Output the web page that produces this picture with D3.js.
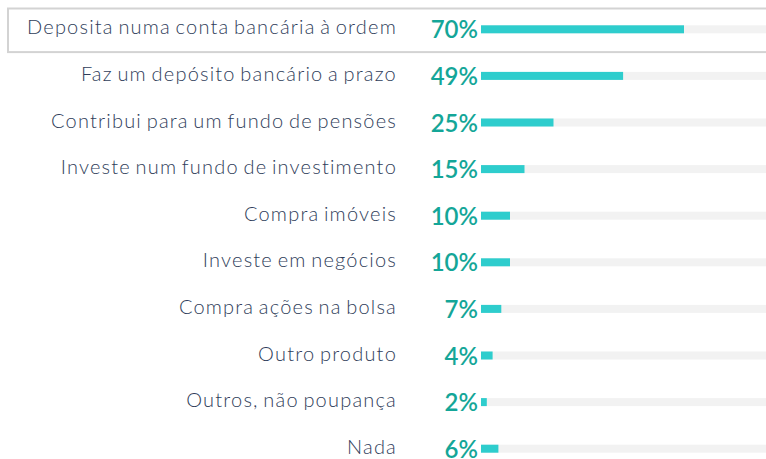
<!DOCTYPE html>
<html><head><meta charset="utf-8">
<script src="https://cdn.jsdelivr.net/npm/d3@7"></script>
<style>
html,body{margin:0;padding:0;background:#fff;}
svg{display:block;}
</style></head>
<body>
<svg id="chart" width="766" height="459"></svg>
<script>
const categories = [
  "Deposita numa conta bancária à ordem",
  "Faz um depósito bancário a prazo",
  "Contribui para um fundo de pensões",
  "Investe num fundo de investimento",
  "Compra imóveis",
  "Investe em negócios",
  "Compra ações na bolsa",
  "Outro produto",
  "Outros, não poupança",
  "Nada"
];
const values = [70, 49, 25, 15, 10, 10, 7, 4, 2, 6];
const valueLabels = ["70%", "49%", "25%", "15%", "10%", "10%", "7%", "4%", "2%", "6%"];
const highlighted = "Deposita numa conta bancária à ordem";

const svg = d3.select("#chart");
const W = 766, H = 459;
const x = d3.scaleLinear().domain([0, 100]).range([481, 771]);
const y = d3.scaleBand().domain(categories).range([6, 472]);
const barH = 8;

// highlight box
svg.append("rect")
  .attr("x", 8).attr("y", y(highlighted) + 2.5)
  .attr("width", W + 10).attr("height", y.bandwidth() - 3)
  .attr("fill", "none").attr("stroke", "#d3d3d3").attr("stroke-width", 2);

const rows = svg.selectAll("g.row").data(categories).join("g")
  .attr("class", "row")
  .attr("transform", d => `translate(0,${y(d) + y.bandwidth() / 2})`);

rows.append("rect")
  .attr("x", x(0)).attr("y", -barH / 2)
  .attr("width", x(100) - x(0)).attr("height", barH)
  .attr("fill", "#f2f2f2");

rows.append("rect")
  .attr("x", x(0)).attr("y", -barH / 2)
  .attr("width", (d, i) => x(values[i]) - x(0)).attr("height", barH)
  .attr("fill", "#2ecdcd");

rows.append("text")
  .attr("x", 397).attr("y", 5)
  .attr("text-anchor", "end")
  .attr("font-family", "Lato")
  .attr("font-weight", 300)
  .attr("font-size", 20)
  .attr("letter-spacing", 1.2)
  .attr("word-spacing", -2)
  .attr("fill", "#2f3d5a")
  .text(d => d);

rows.append("text")
  .attr("x", 478).attr("y", 9)
  .attr("text-anchor", "end")
  .attr("font-family", "Lato")
  .attr("font-weight", 600)
  .attr("font-size", 24)
  .attr("fill", "#14a698")
  .text((d, i) => valueLabels[i]);
</script>
</body></html>
